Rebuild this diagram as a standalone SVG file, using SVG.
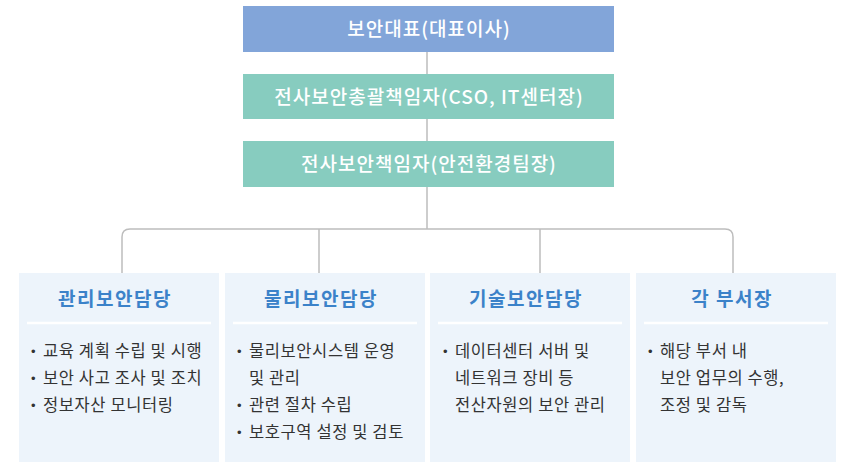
<svg xmlns="http://www.w3.org/2000/svg" width="847" height="462" viewBox="0 0 847 462">
<style>
.top{font-family:"Noto Sans CJK KR","Noto Sans",sans-serif;font-size:19px;font-weight:500;fill:#ffffff;text-anchor:middle;letter-spacing:1px}
.panel{fill:#EDF4FB}
.title{font-family:"Noto Sans CJK KR",sans-serif;font-size:19px;font-weight:700;fill:#3B82C9;text-anchor:middle;letter-spacing:1.5px}
.body{font-family:"Noto Sans CJK KR",sans-serif;font-size:16.5px;fill:#333333;letter-spacing:0.6px}
.b{font-family:"Liberation Sans",sans-serif;font-size:13px;letter-spacing:0}
.div{stroke:#ffffff;stroke-width:2.5}
.conn{fill:none;stroke:#BDBDBD;stroke-width:1.5}
</style>
<rect width="847" height="462" fill="#ffffff"/>
<g id="connectors">
<path class="conn" d="M427 52V74M427 119V141M427 187V229"/>
<path class="conn" d="M122 273V237Q122 229 130 229H725Q733 229 733 237V273"/>
<path class="conn" d="M319 229V273M540 229V273"/>
</g>
<g id="ceo">
<rect x="243" y="6" width="371" height="46" fill="#82A5D9"/>
<text class="top" x="429" y="35.5">보안대표(대표이사)</text>
</g>
<g id="cso">
<rect x="243" y="74" width="371" height="45" fill="#87CCBF"/>
<text class="top" x="429" y="103.5">전사보안총괄책임자(CSO, IT센터장)</text>
</g>
<g id="sso">
<rect x="243" y="141" width="371" height="46" fill="#87CCBF"/>
<text class="top" x="429" y="170.5">전사보안책임자(안전환경팀장)</text>
</g>
<g id="mgmt">
<rect class="panel" x="19" y="273" width="200" height="189"/>
<text class="title" x="115" y="306">관리보안담당</text>
<line class="div" x1="27" y1="323" x2="211" y2="323"/>
<text class="body"><tspan class="b" x="31" y="356">•</tspan><tspan x="43" y="357">교육 계획 수립 및 시행</tspan></text>
<text class="body"><tspan class="b" x="31" y="383">•</tspan><tspan x="43" y="384">보안 사고 조사 및 조치</tspan></text>
<text class="body"><tspan class="b" x="31" y="410">•</tspan><tspan x="43" y="411">정보자산 모니터링</tspan></text>
</g>
<g id="physical">
<rect class="panel" x="225" y="273" width="200" height="189"/>
<text class="title" x="321" y="306">물리보안담당</text>
<line class="div" x1="233" y1="323" x2="417" y2="323"/>
<text class="body"><tspan class="b" x="237" y="356">•</tspan><tspan x="249" y="357">물리보안시스템 운영</tspan></text>
<text class="body" x="249" y="384">및 관리</text>
<text class="body"><tspan class="b" x="237" y="410">•</tspan><tspan x="249" y="411">관련 절차 수립</tspan></text>
<text class="body"><tspan class="b" x="237" y="437">•</tspan><tspan x="249" y="438">보호구역 설정 및 검토</tspan></text>
</g>
<g id="tech">
<rect class="panel" x="430" y="273" width="200" height="189"/>
<text class="title" x="526" y="306">기술보안담당</text>
<line class="div" x1="438" y1="323" x2="622" y2="323"/>
<text class="body"><tspan class="b" x="443" y="356">•</tspan><tspan x="455" y="357">데이터센터 서버 및</tspan></text>
<text class="body" x="455" y="384">네트워크 장비 등</text>
<text class="body" x="455" y="411">전산자원의 보안 관리</text>
</g>
<g id="dept">
<rect class="panel" x="636" y="273" width="200" height="189"/>
<text class="title" x="732" y="306">각 부서장</text>
<line class="div" x1="644" y1="323" x2="828" y2="323"/>
<text class="body"><tspan class="b" x="648" y="356">•</tspan><tspan x="660" y="357">해당 부서 내</tspan></text>
<text class="body" x="660" y="384">보안 업무의 수행,</text>
<text class="body" x="660" y="411">조정 및 감독</text>
</g>
</svg>
